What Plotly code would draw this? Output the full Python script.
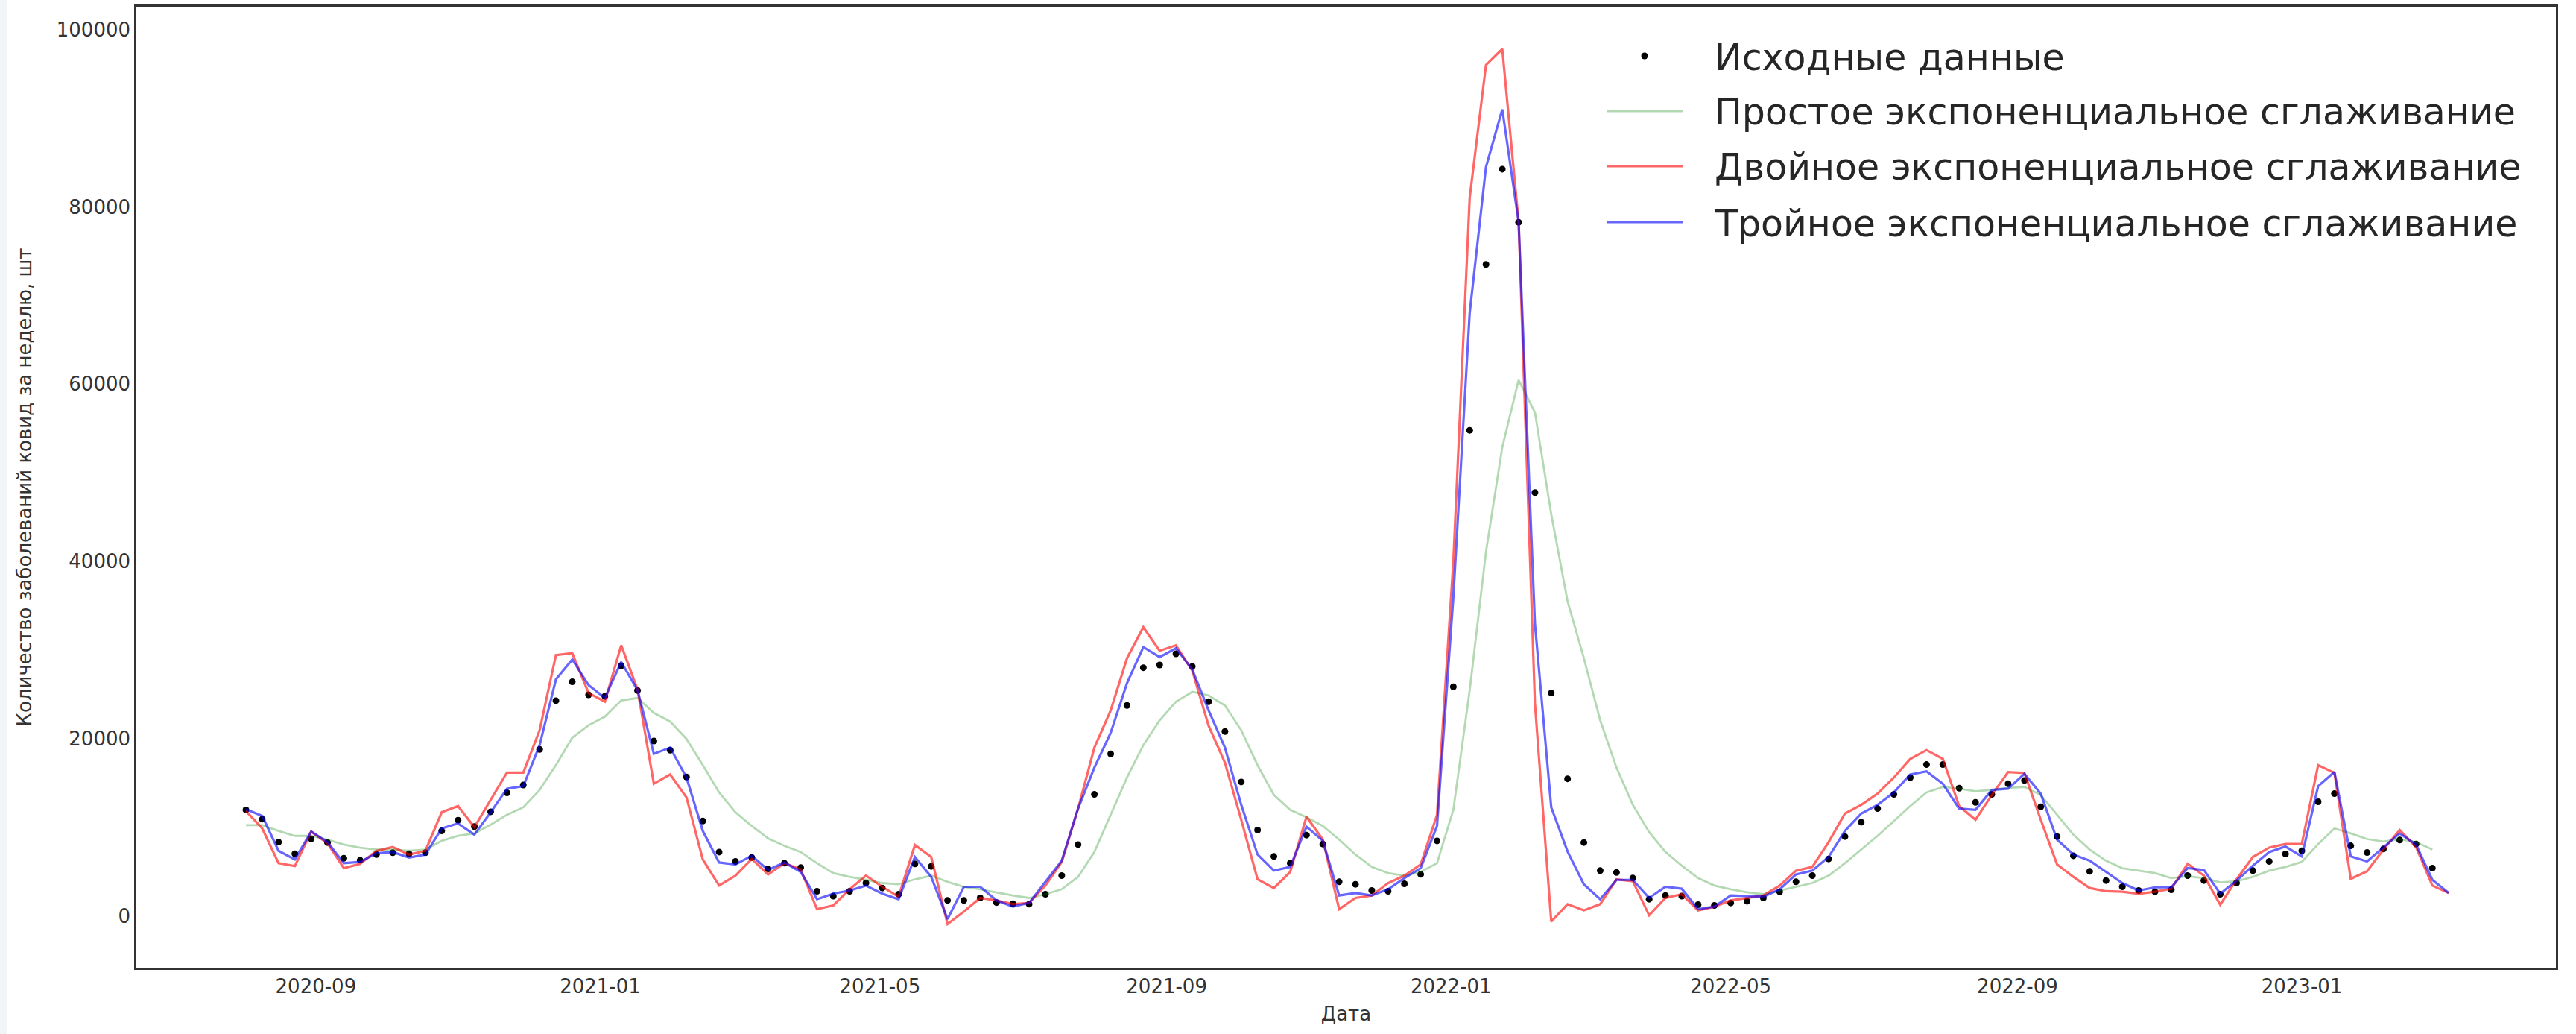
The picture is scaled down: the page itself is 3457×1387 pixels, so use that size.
import pandas as pd
import plotly.graph_objects as go

# ---------------- data ----------------
start_date = "2020-08-02"          # first weekly observation
n_weeks_fit = 136                  # fitted series (double / triple) have one extra week

observed = [
    12000, 10950, 8370, 7050, 8740, 8320, 6550, 6330, 6970, 7170,
    7050, 7170, 9630, 10840, 10110, 11790, 13920, 14810, 18820, 24310,
    26440, 24980, 24810, 28260, 25460, 19770, 18740, 15710, 10750, 7250,
    6190, 6630, 5350, 5990, 5490, 2830, 2270, 2830, 3750, 3190,
    2490, 5910, 5630, 1790, 1790, 2070, 1550, 1420, 1370, 2490,
    4590, 8090, 13750, 18320, 23780, 28030, 28340, 29600, 28170, 24200,
    20840, 15150, 9720, 6750, 5990, 9160, 8150, 3890, 3610, 2910,
    2830, 3670, 4730, 8510, 25880, 54810, 73500, 84250, 78260, 47780,
    25180, 15510, 8320, 5150, 4950, 4310, 1930, 2350, 2270, 1310,
    1230, 1510, 1700, 2070, 2770, 3890, 4590, 6470, 8990, 10610,
    12150, 13750, 15650, 17110, 17110, 14450, 12850, 13750, 14950, 15320,
    12350, 8990, 6830, 5070, 4030, 3330, 2910, 2770, 2990, 4590,
    4030, 2490, 3750, 5150, 6190, 7030, 7390, 12910, 13830, 7950,
    7190, 7590, 8600, 8150, 5430,
]

simple_es = [
    10280, 10280, 9630, 9070, 9070, 8650, 8090, 7730, 7530, 7530,
    7390, 7530, 8510, 9070, 9350, 10330, 11450, 12290, 14250, 17050,
    20140, 21540, 22520, 24340, 24620, 22940, 21960, 20000, 17050, 13970,
    11730, 10190, 8790, 7950, 7250, 5990, 4870, 4450, 4110, 3750,
    3610, 4170, 4590, 3890, 3330, 3050, 2700, 2350, 2070, 2490,
    3050, 4450, 7250, 11450, 15650, 19300, 22100, 24200, 25320, 24900,
    23780, 20980, 17050, 13690, 12010, 11170, 10190, 8650, 6970, 5570,
    4870, 4590, 5010, 5990, 12010, 25460, 41100, 52900, 60470, 56830,
    45350, 35540, 29100, 22100, 16770, 12570, 9490, 7250, 5710, 4310,
    3470, 3050, 2710, 2490, 2910, 3330, 3750, 4590, 5990, 7530,
    9070, 10750, 12430, 13970, 14590, 14390, 14110, 14250, 14480, 14590,
    13690, 11450, 9210, 7530, 6270, 5430, 5150, 4870, 4310, 4510,
    4310, 3830, 3950, 4450, 5150, 5570, 6130, 8150, 9910, 9350,
    8710, 8430, 8710, 8370, 7530,
]

double_es = [
    11870, 9910, 5990, 5660, 9550, 8230, 5430, 5910, 7390, 7810,
    6970, 7390, 11730, 12430, 10050, 13130, 16210, 16210, 20980, 29460,
    29660, 25180, 24200, 30560, 25600, 14950, 15990, 13410, 6410, 3470,
    4590, 6470, 4730, 5990, 5290, 810, 1230, 3050, 4590, 3330,
    2210, 8040, 6690, -870, 530, 2070, 1790, 1370, 1510, 3470,
    6130, 12150, 19020, 23220, 29100, 32600, 29940, 30560, 27700, 21500,
    17330, 10890, 4170, 3190, 5010, 11230, 8650, 810, 2070, 2350,
    3750, 4590, 5850, 11450, 40000, 81000, 96000, 97800, 78300, 24000,
    -590, 1370, 670, 1370, 4170, 3950, 110, 2070, 2490, 670,
    1090, 1790, 2070, 2350, 3470, 5150, 5570, 8370, 11590, 12570,
    13830, 15650, 17750, 18740, 17750, 12430, 10890, 13690, 16270, 16160,
    10890, 5850, 4450, 3190, 2830, 2770, 2550, 2770, 3110, 5910,
    4590, 1310, 4170, 6690, 7750, 8150, 8150, 17050, 16160, 4230,
    5070, 7530, 9720, 7810, 3470, 2630,
]

triple_es = [
    12070, 11310, 7390, 6410, 9550, 8370, 5990, 6130, 7110, 7250,
    6630, 6970, 9910, 10470, 9210, 11730, 14390, 14670, 19300, 26720,
    28960, 26070, 24620, 28680, 25510, 18320, 19020, 15650, 9630, 6070,
    5850, 6830, 5230, 6070, 5010, 1930, 2550, 2910, 3470, 2550,
    1930, 6690, 4450, -310, 3330, 3330, 1790, 1090, 1510, 3890,
    6270, 12150, 16770, 20700, 26300, 30360, 29240, 30220, 27840, 23220,
    19020, 12570, 6970, 5150, 5570, 10110, 8510, 2350, 2630, 2350,
    3050, 4310, 5430, 10190, 36000, 68000, 84500, 91000, 78300, 33000,
    12290, 7310, 3610, 1930, 4110, 4110, 2070, 3330, 3110, 810,
    1090, 2350, 2270, 2210, 3050, 4730, 5150, 6690, 9630, 11590,
    12570, 13970, 15990, 16350, 14950, 12150, 12010, 14250, 14390, 16070,
    13830, 8650, 6970, 6270, 5010, 3750, 2910, 3270, 3270, 5430,
    5230, 2550, 4030, 5710, 7250, 7870, 6750, 14670, 16270, 6750,
    6190, 7810, 9350, 8090, 4110, 2630,
]

tick_dates = ["2020-09-01", "2021-01-01", "2021-05-01", "2021-09-01",
              "2022-01-01", "2022-05-01", "2022-09-01", "2023-01-01"]
tick_labels = ["2020-09", "2021-01", "2021-05", "2021-09",
               "2022-01", "2022-05", "2022-09", "2023-01"]
y_ticks = [0, 20000, 40000, 60000, 80000, 100000]

series_names = ["Исходные данные",
                "Простое экспоненциальное сглаживание",
                "Двойное экспоненциальное сглаживание",
                "Тройное экспоненциальное сглаживание"]

# ---------------- styles ----------------
dot_color = "black"
green_c = "rgba(0,128,0,0.3)"
red_c = "rgba(255,0,0,0.6)"
blue_c = "rgba(0,0,255,0.6)"
font_family = "DejaVu Sans"

W, H = 3457, 1387
ML, MR, MT, MB = 183, 27, 9, 89
PW, PH = W - ML - MR, H - MT - MB


def px_x(px):
    return (px - ML) / PW


def px_y(py):
    return 1 - (py - MT) / PH


# ---------------- figure ----------------
dates_fit = pd.date_range(start_date, periods=n_weeks_fit, freq="7D")
dates_obs = dates_fit[:len(observed)]

fig = go.Figure()
fig.add_trace(go.Scatter(x=dates_obs, y=observed, mode="markers",
                         name=series_names[0],
                         marker=dict(color=dot_color, size=9)))
fig.add_trace(go.Scatter(x=dates_obs, y=simple_es, mode="lines",
                         name=series_names[1],
                         line=dict(color=green_c, width=2.8)))
fig.add_trace(go.Scatter(x=dates_fit, y=double_es, mode="lines",
                         name=series_names[2],
                         line=dict(color=red_c, width=3.2)))
fig.add_trace(go.Scatter(x=dates_fit, y=triple_es, mode="lines",
                         name=series_names[3],
                         line=dict(color=blue_c, width=3.2)))

tick_font = dict(family=font_family, size=26, color="#333333")

# legend drawn like matplotlib's (long handles), as real text annotations
leg_rows_py = [75, 149, 223, 298]
leg_line_x0, leg_line_x1, leg_text_x = 2156, 2258, 2299
leg_styles = [None, (green_c, 2.8), (red_c, 3.2), (blue_c, 3.2)]

shapes = [dict(type="rect", xref="paper", yref="paper",
               x0=-ML / PW, x1=(-ML + 10) / PW,
               y0=-MB / PH, y1=(H - MT) / PH,
               fillcolor="#f3f4f5", line=dict(width=0), layer="below")]
annotations = []
for name, py, st in zip(series_names, leg_rows_py, leg_styles):
    if st is None:
        shapes.append(dict(type="circle", xref="paper", yref="paper",
                           xsizemode="pixel", ysizemode="pixel",
                           xanchor=px_x((leg_line_x0 + leg_line_x1) / 2),
                           yanchor=px_y(py),
                           x0=-4.5, x1=4.5, y0=-4.5, y1=4.5,
                           fillcolor=dot_color, line=dict(width=0)))
    else:
        shapes.append(dict(type="line", xref="paper", yref="paper",
                           x0=px_x(leg_line_x0), x1=px_x(leg_line_x1),
                           y0=px_y(py), y1=px_y(py),
                           line=dict(color=st[0], width=st[1])))
    annotations.append(dict(xref="paper", yref="paper",
                            x=px_x(leg_text_x), y=px_y(py + 2),
                            xanchor="left", yanchor="middle",
                            text=name, showarrow=False,
                            font=dict(family=font_family, size=49, color="#262626")))

fig.update_layout(
    width=W, height=H,
    margin=dict(l=ML, r=MR, t=MT, b=MB, pad=0, autoexpand=False),
    paper_bgcolor="white", plot_bgcolor="white",
    font=dict(family=font_family, color="#262626"),
    showlegend=False,
    xaxis=dict(range=["2020-06-16", "2023-04-20"], automargin=False,
               tickmode="array", tickvals=tick_dates, ticktext=tick_labels,
               tickfont=tick_font, ticks="", showgrid=False, zeroline=False,
               showline=True, linecolor="#333333", linewidth=2.5, mirror=True,
               title=dict(text="Дата", font=dict(family=font_family, size=26, color="#333333"),
                          standoff=14)),
    yaxis=dict(range=[-5790, 102570], automargin=False,
               tickmode="array", tickvals=y_ticks, tickformat="d",
               tickfont=tick_font, ticks="", showgrid=False, zeroline=False,
               showline=True, linecolor="#333333", linewidth=2.5, mirror=True,
               title=dict(text="Количество заболеваний ковид за неделю, шт",
                          font=dict(family=font_family, size=26, color="#333333"),
                          standoff=26)),
    shapes=shapes,
    annotations=annotations,
)

fig.write_html("out.html",
               config={"displayModeBar": False},
               post_script="document.body.style.margin='0';"
                           "document.body.style.overflow='hidden';")
